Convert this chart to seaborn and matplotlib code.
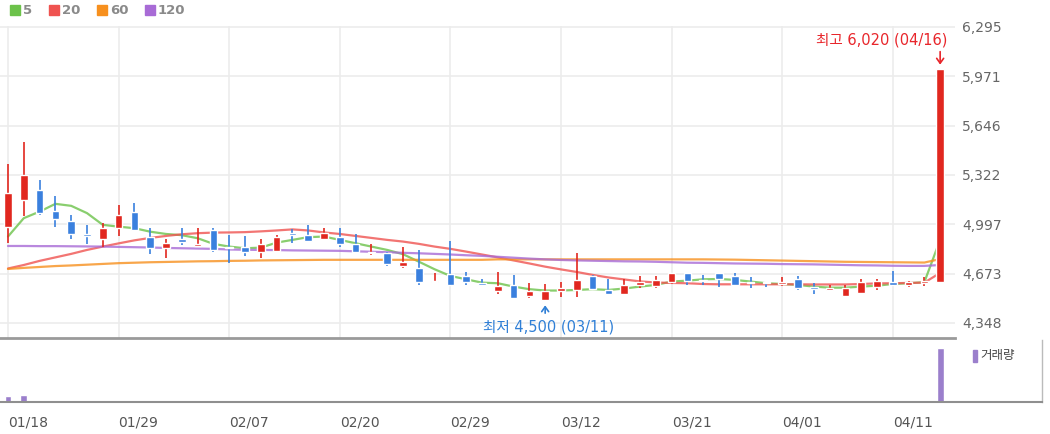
import numpy as np
import pandas as pd
import seaborn as sns
import matplotlib.pyplot as plt
from matplotlib.lines import Line2D
from matplotlib.patches import Rectangle

# trading days shown on the chart
dates = ['01/18', '01/19', '01/22', '01/23', '01/24', '01/25', '01/26', '01/29', '01/30', '01/31',
         '02/01', '02/02', '02/05', '02/06', '02/07', '02/08', '02/13', '02/14', '02/15', '02/16',
         '02/19', '02/20', '02/21', '02/22', '02/23', '02/26', '02/27', '02/28', '02/29', '03/04',
         '03/05', '03/06', '03/07', '03/08', '03/11', '03/12', '03/13', '03/14', '03/15', '03/18',
         '03/19', '03/20', '03/21', '03/22', '03/25', '03/26', '03/27', '03/28', '03/29', '04/01',
         '04/02', '04/03', '04/04', '04/05', '04/08', '04/09', '04/11', '04/12', '04/15', '04/16']

# OHLC
open_ = [4980, 5155, 5225, 5085, 5020, 4935, 4900, 4970, 5075, 4910,
         4840, 4900, 4855, 4960, 4845, 4845, 4815, 4820, 4940, 4925,
         4900, 4910, 4870, 4810, 4805, 4725, 4710, 4620, 4670, 4655,
         4610, 4555, 4600, 4525, 4500, 4555, 4565, 4655, 4565, 4540,
         4600, 4590, 4620, 4675, 4630, 4675, 4655, 4620, 4620, 4605,
         4635, 4585, 4565, 4525, 4545, 4585, 4615, 4600, 4610, 4620]
high = [5390, 5540, 5285, 5185, 5055, 4995, 5005, 5125, 5135, 4970,
        4900, 4975, 4975, 4970, 4925, 4920, 4900, 4925, 4965, 4990,
        4970, 4970, 4930, 4870, 4815, 4850, 4830, 4675, 4890, 4680,
        4640, 4680, 4665, 4610, 4605, 4620, 4810, 4665, 4635, 4640,
        4655, 4655, 4675, 4675, 4665, 4675, 4675, 4650, 4620, 4650,
        4655, 4610, 4600, 4600, 4640, 4640, 4690, 4625, 4650, 6020]
low = [4875, 5050, 5060, 4980, 4900, 4870, 4850, 4920, 4950, 4800,
       4775, 4860, 4850, 4815, 4745, 4785, 4775, 4820, 4875, 4885,
       4900, 4845, 4815, 4795, 4725, 4710, 4595, 4615, 4600, 4600,
       4600, 4540, 4505, 4515, 4500, 4520, 4520, 4565, 4540, 4540,
       4575, 4575, 4605, 4600, 4600, 4585, 4600, 4575, 4585, 4590,
       4565, 4540, 4555, 4525, 4545, 4565, 4600, 4585, 4590, 4620]
close = [5205, 5320, 5070, 5030, 4930, 4920, 4975, 5055, 4960, 4840,
         4875, 4880, 4870, 4825, 4840, 4815, 4870, 4915, 4925, 4885,
         4940, 4870, 4815, 4815, 4735, 4750, 4620, 4625, 4600, 4620,
         4600, 4590, 4515, 4555, 4555, 4575, 4630, 4570, 4540, 4600,
         4615, 4630, 4675, 4625, 4625, 4635, 4600, 4610, 4610, 4615,
         4575, 4570, 4575, 4575, 4615, 4625, 4600, 4620, 4625, 6020]

# moving averages
ma5 = [4916, 5037, 5080, 5131, 5118, 5070, 4993, 4981, 4971, 4948,
       4933, 4925, 4905, 4868, 4850, 4839, 4843, 4876, 4894, 4912,
       4916, 4894, 4872, 4850, 4828, 4800, 4751, 4701, 4657, 4635,
       4613, 4609, 4587, 4570, 4561, 4561, 4565, 4570, 4565, 4574,
       4587, 4598, 4620, 4626, 4635, 4637, 4631, 4620, 4609, 4604,
       4598, 4587, 4580, 4580, 4587, 4593, 4604, 4609, 4616, 4895]
ma20 = [4706, 4729, 4756, 4779, 4802, 4828, 4850, 4871, 4891, 4907,
        4920, 4931, 4938, 4942, 4943, 4945, 4950, 4956, 4963, 4956,
        4943, 4933, 4920, 4907, 4894, 4883, 4868, 4850, 4835, 4817,
        4798, 4779, 4759, 4739, 4718, 4700, 4683, 4664, 4647, 4634,
        4621, 4614, 4611, 4609, 4604, 4602, 4602, 4602, 4602, 4602,
        4602, 4601, 4601, 4601, 4604, 4608, 4609, 4611, 4613, 4677]
ma60 = [4703, 4710, 4716, 4722, 4726, 4731, 4736, 4741, 4744, 4747,
        4749, 4751, 4753, 4754, 4756, 4757, 4759, 4760, 4761, 4762,
        4763, 4763, 4763, 4763, 4763, 4763, 4763, 4763, 4763, 4763,
        4763, 4766, 4766, 4766, 4766, 4766, 4766, 4766, 4766, 4766,
        4766, 4766, 4766, 4766, 4766, 4765, 4764, 4762, 4760, 4758,
        4756, 4754, 4752, 4750, 4749, 4748, 4747, 4746, 4745, 4768]
ma120 = [4854, 4854, 4853, 4853, 4852, 4851, 4850, 4848, 4846, 4844,
         4841, 4839, 4837, 4835, 4831, 4829, 4828, 4827, 4825, 4824,
         4823, 4822, 4819, 4816, 4813, 4809, 4806, 4802, 4798, 4793,
         4789, 4783, 4777, 4771, 4766, 4762, 4759, 4757, 4755, 4753,
         4752, 4750, 4747, 4744, 4743, 4741, 4739, 4738, 4737, 4735,
         4734, 4733, 4731, 4729, 4727, 4726, 4724, 4723, 4723, 4729]

volume = [280000, 365000, 65000, 60000, 15000, 12000, 10000, 60000, 14000, 12000,
          9000, 8000, 10000, 12000, 9000, 8000, 9000, 11000, 7000, 8000,
          9000, 10000, 8000, 7000, 12000, 9000, 14000, 8000, 15000, 9000,
          7000, 9000, 11000, 8000, 12000, 9000, 55000, 10000, 8000, 9000,
          7000, 8000, 10000, 9000, 8000, 9000, 10000, 8000, 7000, 8000,
          9000, 8000, 7000, 9000, 10000, 8000, 12000, 7000, 9000, 2700000]

price_ticks = [4348, 4673, 4997, 5322, 5646, 5971, 6295]

sns.set_style('white')
plt.rcParams['font.family'] = ['DejaVu Sans', 'Noto Sans CJK KR']

df = pd.DataFrame({'date': dates, 'open': open_, 'high': high, 'low': low,
                   'close': close, 'ma5': ma5, 'ma20': ma20, 'ma60': ma60,
                   'ma120': ma120, 'volume': volume})
df['i'] = np.arange(len(df))

RED = '#e1271f'
BLUE = '#3a80de'
ma_colors = {'ma5': '#6cc24a', 'ma20': '#ef5350', 'ma60': '#f7901e', 'ma120': '#a86bd6'}

fig = plt.figure(figsize=(10.5, 4.34), dpi=100)
ax = fig.add_axes([0, 0.2212, 955 / 1050, 0.940 - 0.2212])
axv = fig.add_axes([0, 0.0737, 1042 / 1050, 0.2166 - 0.0737])

# grid
for t in price_ticks:
    ax.axhline(t, color='#ececec', lw=1.2, zorder=0)
for t in df['i'][::7]:
    ax.axvline(t, color='#ececec', lw=1.2, zorder=0)

# moving averages
for col, c in ma_colors.items():
    sns.lineplot(x=df['i'], y=df[col], ax=ax, color=c, lw=1.6, alpha=0.8, zorder=2)

# candles
up = df['close'] >= df['open']
colors = np.where(up, RED, BLUE)
body_lo = df[['open', 'close']].min(axis=1)
body_h = (df['close'] - df['open']).abs().clip(lower=5)
ax.vlines(df['i'], df['low'], df['high'], colors=colors, lw=1.2, zorder=3)
ax.bar(df['i'], body_h, bottom=body_lo, width=0.48, color=colors, zorder=4)

ax.set_xlim(-0.506, 59.94)
ax.set_ylim(4249, 6300)
ax.set_xlabel('')
ax.set_ylabel('')
ax.set_xticks([])
ax.yaxis.tick_right()
ax.set_yticks(price_ticks)
ax.set_yticklabels([f'{t:,}' for t in price_ticks])
ax.tick_params(axis='y', length=0, pad=5, labelsize=10, labelcolor='#666666')
for s in ['top', 'left', 'right']:
    ax.spines[s].set_visible(False)
ax.spines['bottom'].set_color('#9a9a9a')
ax.spines['bottom'].set_linewidth(2)

# high / low marks
hi = df['high'].idxmax()
lo = df['low'].idxmin()
ax.text(hi + 0.45, 6209, f"최고 {df['high'][hi]:,} ({df['date'][hi]})", color='#e8262b',
        fontsize=10.5, ha='right', va='center')
ax.annotate('', xy=(hi, df['high'][hi] + 8), xytext=(hi, 6150),
            arrowprops=dict(arrowstyle='->,head_width=0.25,head_length=0.35', color='#e8262b', lw=1.2))
ax.text(lo + 0.2, 4322, f"최저 {df['low'][lo]:,} ({df['date'][lo]})", color='#2f7fd6',
        fontsize=10.5, ha='center', va='center')
ax.annotate('', xy=(lo, df['low'][lo] - 18), xytext=(lo, 4394),
            arrowprops=dict(arrowstyle='->,head_width=0.25,head_length=0.35', color='#2f7fd6', lw=1.2))

# volume panel
axv.bar(df['i'], df['volume'], width=0.42, color='#9b7fcc', zorder=2)
axv.set_xlim(-0.506, 65.44)
axv.set_ylim(0, 3100000)
axv.set_yticks([])
axv.set_xticks(df['i'][::7])
axv.set_xticklabels(df['date'][::7], ha='left', fontsize=10, color='#555555')
axv.tick_params(axis='x', length=5, width=1, color='#aaaaaa', pad=4.5)
axv.spines['top'].set_visible(False)
axv.spines['left'].set_visible(False)
axv.spines['bottom'].set_color('#8f8f8f')
axv.spines['bottom'].set_linewidth(1.5)
axv.spines['right'].set_color('#bbbbbb')
axv.spines['right'].set_linewidth(1)
axv.set_xlabel('')
axv.set_ylabel('')

fig.add_artist(Rectangle((973 / 1050, 1 - 362 / 434), 4 / 1050, 12 / 434,
                         transform=fig.transFigure, color='#9b7fcc'))
fig.text(980 / 1050, 1 - 356 / 434, '거래량', fontsize=9, color='#444444', va='center')

# MA legend
handles = [Line2D([], [], marker='s', linestyle='', markersize=7, color=c) for c in ma_colors.values()]
leg = fig.legend(handles, ['5', '20', '60', '120'], loc='upper left', bbox_to_anchor=(0.0067, 0.998),
                 ncol=4, frameon=False, handlelength=0.7, handletextpad=0.25, columnspacing=1.3,
                 borderaxespad=0.0, borderpad=0.25, prop={'weight': 'bold', 'size': 9.5})
for t in leg.get_texts():
    t.set_color('#8a8a8a')

fig.savefig('out.png', dpi=100)
